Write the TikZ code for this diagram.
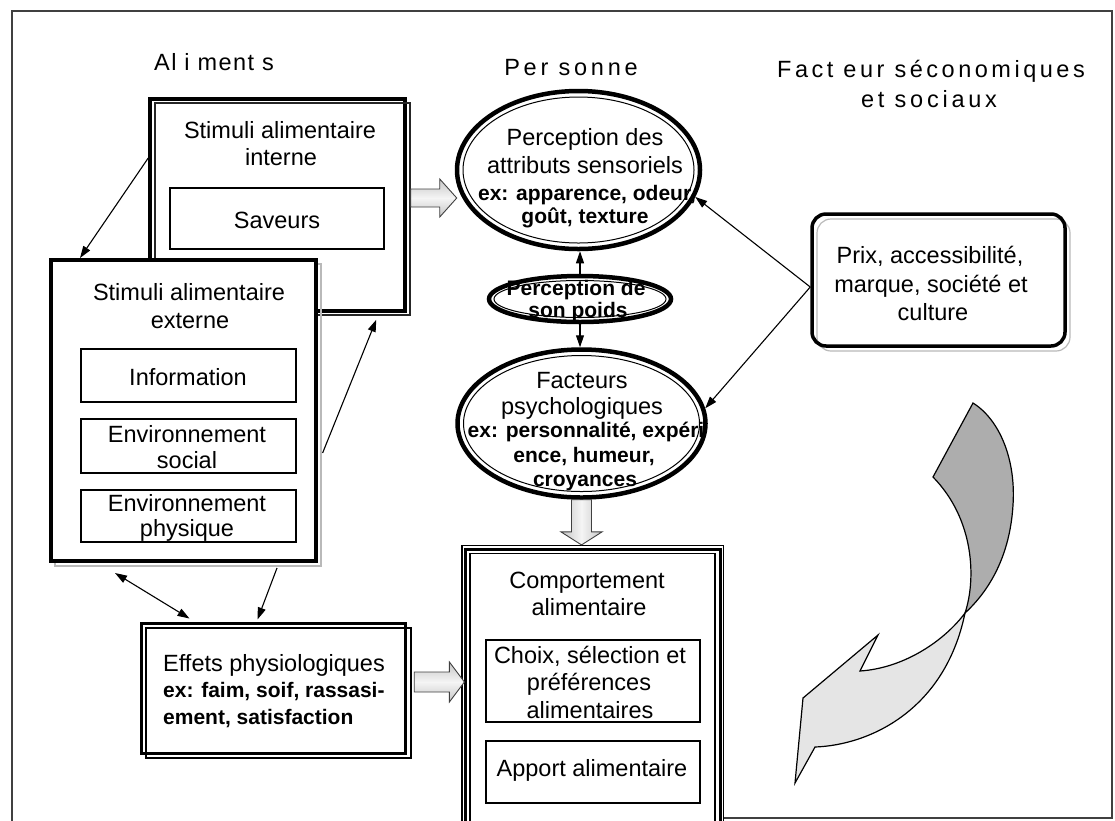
\documentclass[tikz,border=0pt]{standalone}
\usepackage{fontspec}
\setmainfont{Liberation Sans}
\usetikzlibrary{shapes.geometric,arrows.meta,calc}

\newcommand\regtxt{\fontsize{23.5}{27}\selectfont}
\newcommand\boldtxt{\bfseries\fontsize{21}{24}\selectfont}
\newcommand\headtxt[1]{\fontsize{23.5}{27}\selectfont\addfontfeatures{LetterSpace=#1}}

% rectangle node given by two corners (x1,y1) (x2,y2), y growing downwards
\newcommand\rectnode[6][]{%
  \node[rectangle, inner sep=0pt, #1, minimum width={(#5)-(#3)}, minimum height={(#6)-(#4)}]
    (#2) at ({((#3)+(#5))/2},{((#4)+(#6))/2}) {};}

% one line of text, placed on its baseline
\newcommand\tline[5][txt]{\node[#1] (#2) at (#3,#4) {#5};}

% wide block arrows: start, tip, half shaft, half head, head length
\newcommand\fatright[5]{%
  \path[fatR] ($(#1)+(0,-#3)$) -- ($(#2)+(-#5,-#3)$) -- ($(#2)+(-#5,-#4)$) -- (#2)
    -- ($(#2)+(-#5,#4)$) -- ($(#2)+(-#5,#3)$) -- ($(#1)+(0,#3)$) -- cycle;}
\newcommand\fatdown[5]{%
  \path[fatD] ($(#1)+(-#3,0)$) -- ($(#2)+(-#3,-#5)$) -- ($(#2)+(-#4,-#5)$) -- (#2)
    -- ($(#2)+(#4,-#5)$) -- ($(#2)+(#3,-#5)$) -- ($(#1)+(#3,0)$) -- cycle;}

\begin{document}
\begin{tikzpicture}[x=1pt,y=-1pt,
  txt/.style={anchor=base, inner sep=0pt, font=\regtxt},
  btxt/.style={anchor=base, inner sep=0pt, font=\boldtxt},
  ltxt/.style={anchor=base west, inner sep=0pt, font=\regtxt},
  lbtxt/.style={anchor=base west, inner sep=0pt, font=\boldtxt},
  thickline/.style={draw=black, line width=3.5pt},
  thinline/.style={draw=black, line width=1.2pt},
  shadowline/.style={draw=gray!55, line width=1.2pt},
  conn/.style={draw=black, line width=1.1pt, -{Triangle[length=12pt,width=8pt]}},
  conntwo/.style={draw=black, line width=1.1pt, {Triangle[length=12pt,width=8pt]}-{Triangle[length=12pt,width=8pt]}},
  fatR/.style={draw=black!75, line width=0.9pt, top color=gray!45, bottom color=gray!45, middle color=gray!8},
  fatD/.style={draw=black!75, line width=0.9pt, left color=gray!45, right color=gray!45, middle color=gray!8},
  oval/.style={ellipse, draw=black, line width=4.5pt, inner sep=0pt},
  ovalin/.style={ellipse, draw=black, line width=1pt, inner sep=0pt},
  frame/.style={draw=black!75, line width=1.5pt},
  ribbonback/.style={draw=black, line width=1.2pt, fill=black!32},
  ribbonfront/.style={draw=black, line width=1.2pt, fill=black!10}]

\useasboundingbox (0,0) rectangle (1115,820);

% ---- column headings
\node[anchor=base, inner sep=0pt, font=\headtxt{6}]  (hAli) at (214,70) {Al i ment s};
\node[anchor=base, inner sep=0pt, font=\headtxt{16}] (hPer) at (571,75) {Per sonne};
\node[anchor=base, inner sep=0pt, font=\headtxt{15}] (hFa1) at (931,77) {Fact eur séconomiques};
\node[anchor=base, inner sep=0pt, font=\headtxt{16}] (hFa2) at (929,107) {et sociaux};

% ---- internal food stimuli
\rectnode[thickline]{intA}{150}{99}{405}{311}
\rectnode[draw=black!85, line width=1.5pt]{intB}{155}{103}{410}{315}
\tline{tI1}{280}{138}{Stimuli alimentaire}
\tline{tI2}{281}{165}{interne}
\rectnode[thinline]{sav}{170}{188}{384}{249}
\tline{tSav}{277}{228}{Saveurs}

% ---- external food stimuli (on top of the internal box)
\rectnode[shadowline]{extS}{55}{264}{321}{566}
\rectnode[thickline, line width=4pt, fill=white]{extA}{51}{260}{316}{561}
\tline{tE1}{189}{300}{Stimuli alimentaire}
\tline{tE2}{190}{328}{externe}
\rectnode[thinline]{info}{81}{349}{296}{402}
\tline{tInfo}{188}{385}{Information}
\rectnode[thinline]{soc}{81}{419}{296}{473}
\tline{tSo1}{187}{442}{Environnement}
\tline{tSo2}{187}{468}{social}
\rectnode[thinline]{phy}{81}{490}{296}{542}
\tline{tPh1}{187}{511}{Environnement}
\tline{tPh2}{187}{536}{physique}

% ---- physiological effects
\rectnode[thickline, line width=3pt]{effA}{141}{623}{405}{753}
\rectnode[thickline, line width=2.5pt]{effB}{146}{628}{411}{758}
\tline[ltxt]{tEf1}{163}{671}{Effets physiologiques}
\tline[lbtxt]{tEf2}{163}{697}{ex: faim, soif, rassasi-}
\tline[lbtxt]{tEf3}{163}{724}{ement, satisfaction}

% ---- eating behaviour
\rectnode[thinline]{compA}{462}{545.5}{723.5}{835}
\rectnode[thickline, line width=3pt]{compB}{465.5}{549.5}{720}{835}
\rectnode[thinline]{compC}{470}{553.5}{715}{835}
\tline{tCo1}{587}{588}{Comportement}
\tline{tCo2}{589}{615}{alimentaire}
\rectnode[thinline]{choix}{486}{640}{700}{722}
\tline{tCh1}{590}{663}{Choix, sélection et}
\tline{tCh2}{589}{690}{préférences}
\tline{tCh3}{590}{718}{alimentaires}
\rectnode[thinline]{apport}{486}{741}{700}{803}
\tline{tAp}{592}{776}{Apport alimentaire}

% ---- sensory perception
\tline{tS1}{585}{145}{Perception des}
\tline{tS2}{585}{173}{attributs sensoriels}
\tline[btxt]{tS3}{587}{200}{ex: apparence, odeur,}
\tline[btxt]{tS4}{585}{223}{goût, texture}
\node[oval, minimum width=243pt, minimum height=158pt] (E1) at (578.5,170) {};
\node[ovalin, minimum width=231pt, minimum height=146pt] (E1i) at (E1.center) {};

% ---- own weight
\tline[btxt]{tW1}{576}{295}{Perception de}
\tline[btxt]{tW2}{578}{317}{son poids}
\node[oval, minimum width=182pt, minimum height=46pt] (E0) at (580,299) {};
\node[ovalin, minimum width=172pt, minimum height=37pt] (E0i) at (E0.center) {};

% ---- psychological factors
\tline{tP1}{582}{388}{Facteurs}
\tline{tP2}{582}{414}{psychologiques}
\tline[btxt]{tP3}{586}{437}{ex: personnalité, expéri}
\tline[btxt]{tP4}{584}{462}{ence, humeur,}
\tline[btxt]{tP5}{585}{486}{croyances}
\node[oval, minimum width=248pt, minimum height=148pt] (E2) at (581.5,423.5) {};
\node[ovalin, minimum width=236pt, minimum height=136pt] (E2i) at (E2.center) {};

% ---- economic and social factors
\rectnode[shadowline, rounded corners=14pt]{prixS}{817}{219}{1070}{351}
\rectnode[thickline, rounded corners=14pt]{prix}{812}{214}{1065}{346}
\tline{tPr1}{930}{263}{Prix, accessibilité,}
\tline{tPr2}{931}{292}{marque, société et}
\tline{tPr3}{933}{320}{culture}

% ---- thin connectors
\draw[conn] ($(intA.west)+(0,-47)$) -- ($(extA.north west)+(31,0)$);
\draw[conn] ($(extS.east)+(1,38)$) -- ($(intB.south west)+(222,4)$);
\draw[conntwo] ($(extA.south west)+(66,10)$) -- ($(effA.north west)+(50,-3)$);
\draw[conn] ($(extA.south west)+(228,5)$) -- ($(effA.north west)+(118,-2)$);
\draw[conn] (E0.north) -- (E0.north |- E1.south);
\draw[conn] (E0.south) -- (E0.south |- E2.north);
\coordinate (pS) at ($(prix.west)+(0,7)$);
\draw[conn] (pS) -- (E1.-13);
\draw[conn] (pS) -- (E2.7);

% ---- block arrows
\coordinate (fa1s) at ($(intB.east)+(0,-11)$);
\coordinate (fa1e) at ($(E1.west |- fa1s)+(2,0)$);
\fatright{fa1s}{fa1e}{9}{19}{17}
\coordinate (fa2s) at (E2.south);
\coordinate (fa2e) at (E2.south |- compA.north);
\fatdown{fa2s}{fa2e}{10}{20.5}{13}
\coordinate (fa3s) at ($(effB.east)+(2,-11)$);
\coordinate (fa3e) at ($(compA.west |- fa3s)+(3,0)$);
\fatright{fa3s}{fa3e}{10}{20}{15}

% ---- twisted return arrow
\path[ribbonback] (933,477) -- (973,403)
  .. controls (1000,420) and (1016,460) .. (1013,505)
  .. controls (1010,555) and (990,590) .. (965,613)
  .. controls (976,580) and (975,520) .. (933,477) -- cycle;
\path[ribbonfront] (965,613)
  .. controls (945,640) and (905,668) .. (860,671)
  -- (878,635) -- (803,698) -- (795,783) -- (815,747)
  .. controls (870,745) and (945,710) .. (965,613) -- cycle;

% ---- outer frame
\coordinate (fb) at (0,818);
\draw[frame] (12,822) -- (12,11) -- (1112,11) -- (1112,818) -- (compA.east |- fb);
\end{tikzpicture}
\end{document}
